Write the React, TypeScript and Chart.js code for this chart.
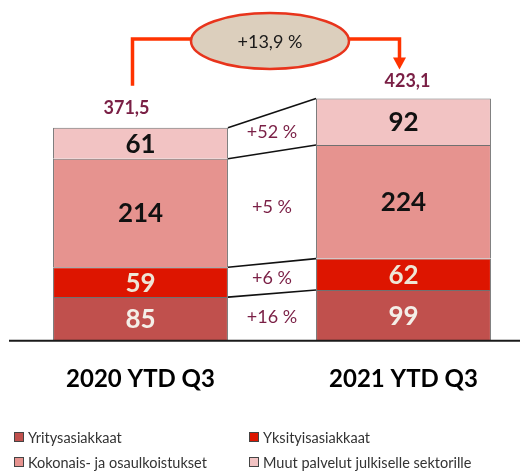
import React, { useEffect, useRef } from "react";
import { Chart, registerables } from "chart.js";

Chart.register(...registerables);

const periods = ["2020 YTD Q3", "2021 YTD Q3"];
const seriesNames = [
  "Yritysasiakkaat",
  "Yksityisasiakkaat",
  "Kokonais- ja osaulkoistukset",
  "Muut palvelut julkiselle sektorille",
];
const yritysasiakkaat = [85, 99];
const yksityisasiakkaat = [59, 62];
const kokonaisJaOsa = [214, 224];
const muutPalvelut = [61, 92];
const totals = ["371,5", "423,1"];
const changes = ["+16 %", "+6 %", "+5 %", "+52 %"];
const totalChange = "+13,9 %";

const series = [yritysasiakkaat, yksityisasiakkaat, kokonaisJaOsa, muutPalvelut];
const colors = ["#C0504D", "#DD1500", "#E6938F", "#F2C3C3"];
const valueColors = ["#F4EFE8", "#EEE6D6", "#111111", "#111111"];
const FONT = "Lato, 'Open Sans', sans-serif";

const annotationPlugin = {
  id: "annotations",
  afterDatasetsDraw(chart: any) {
    const ctx = chart.ctx as CanvasRenderingContext2D;
    const area = chart.chartArea;
    const metas = series.map((_, i) => chart.getDatasetMeta(i));
    const bar = (i: number, j: number) => metas[i].data[j].getProps(["x", "y", "base", "width"], true);
    ctx.save();

    // baseline
    ctx.strokeStyle = "#1a1a1a";
    ctx.lineWidth = 2;
    ctx.beginPath();
    ctx.moveTo(area.left, area.bottom + 0.5);
    ctx.lineTo(area.right, area.bottom + 0.5);
    ctx.stroke();

    // connectors
    ctx.strokeStyle = "#111";
    ctx.lineWidth = 1.6;
    series.forEach((_, i) => {
      const a = bar(i, 0);
      const b = bar(i, 1);
      ctx.beginPath();
      ctx.moveTo(a.x + a.width / 2, a.y);
      ctx.lineTo(b.x - b.width / 2, b.y);
      ctx.stroke();
    });

    // segment values
    ctx.textAlign = "center";
    ctx.textBaseline = "middle";
    ctx.font = `bold 26px ${FONT}`;
    series.forEach((vals, i) => {
      vals.forEach((v, j) => {
        const p = bar(i, j);
        ctx.fillStyle = valueColors[i];
        ctx.fillText(String(v), p.x, (p.y + p.base) / 2 + 1);
      });
    });

    // change labels between bars
    ctx.font = `18px ${FONT}`;
    ctx.fillStyle = "#7A1F45";
    series.forEach((_, i) => {
      const a = bar(i, 0);
      const b = bar(i, 1);
      const x = (a.x + a.width / 2 + b.x - b.width / 2) / 2;
      const y = ((a.y + a.base) / 2 + (b.y + b.base) / 2) / 2;
      ctx.fillText(changes[i], x, y);
    });

    // totals
    ctx.font = `bold 18px ${FONT}`;
    ctx.fillStyle = "#7A1F45";
    const top0 = bar(3, 0);
    const top1 = bar(3, 1);
    ctx.fillText(totals[0], top0.x - 14, top0.y - 20);
    ctx.fillText(totals[1], top1.x + 4, top1.y - 17);

    // arrow
    const x1 = top0.x - 8;
    const x2 = top1.x - 4;
    const lineY = area.top + 9;
    const cx = (x1 + x2) / 2 + 4;
    const cy = area.top + 11;
    ctx.strokeStyle = "#FF3300";
    ctx.lineWidth = 3.5;
    ctx.lineJoin = "miter";
    ctx.beginPath();
    ctx.moveTo(x1, top0.y - 42);
    ctx.lineTo(x1, lineY);
    ctx.lineTo(cx, lineY);
    ctx.stroke();
    ctx.beginPath();
    ctx.moveTo(cx, lineY);
    ctx.lineTo(x2, lineY);
    ctx.lineTo(x2, top1.y - 40);
    ctx.stroke();
    ctx.fillStyle = "#FF3300";
    ctx.beginPath();
    ctx.moveTo(x2 - 6.5, top1.y - 41);
    ctx.lineTo(x2 + 6.5, top1.y - 41);
    ctx.lineTo(x2, top1.y - 29);
    ctx.closePath();
    ctx.fill();

    // ellipse
    ctx.beginPath();
    ctx.ellipse(cx, cy, 79, 28, 0, 0, Math.PI * 2);
    ctx.fillStyle = "#DCCFBD";
    ctx.fill();
    ctx.strokeStyle = "#E8341C";
    ctx.lineWidth = 2.5;
    ctx.stroke();
    ctx.fillStyle = "#1a1a1a";
    ctx.font = `18px ${FONT}`;
    ctx.fillText(totalChange, cx, cy + 1);

    ctx.restore();
  },
};

export default function App() {
  const ref = useRef<HTMLCanvasElement>(null);
  useEffect(() => {
    if (!ref.current) return;
    const chart = new Chart(ref.current, {
      type: "bar",
      data: {
        datasets: series.map((vals, i) => ({
          label: seriesNames[i],
          data: vals.map((v, j) => ({ x: j, y: v })),
          backgroundColor: colors[i],
          borderColor: "#707070",
          borderWidth: 1,
          barPercentage: 0.665,
          categoryPercentage: 1,
        })),
      },
      options: {
        animation: false,
        responsive: false,
        maintainAspectRatio: false,
        layout: { padding: { left: 9, right: 2, top: 30, bottom: 53 } },
        plugins: { legend: { display: false }, tooltip: { enabled: false } },
        scales: {
          x: {
            type: "linear",
            offset: false,
            stacked: true,
            min: -0.5,
            max: 1.443,
            grid: { display: false, drawTicks: false, offset: false },
            border: { display: false },
            afterBuildTicks: (s: any) => {
              s.ticks = periods.map((_, i) => ({ value: i }));
            },
            ticks: {
              callback: (v: any) => periods[v as number] ?? "",
              font: { family: FONT, size: 24, weight: "bold" },
              color: "#000",
              padding: 25,
              autoSkip: false,
              maxRotation: 0,
            },
          },
          y: { stacked: true, display: false, min: 0, max: 612 },
        },
      } as any,
      plugins: [annotationPlugin],
    });
    return () => chart.destroy();
  }, []);

  const legendPos = [
    { left: 14, top: 437 },
    { left: 249, top: 437 },
    { left: 14, top: 462 },
    { left: 249, top: 462 },
  ];

  return (
    <div style={{ position: "absolute", left: 0, top: 0, width: 522, height: 472, background: "#fff" }}>
      <canvas ref={ref} width={522} height={472} style={{ display: "block", width: 522, height: 472 }} />
      {seriesNames.map((name, i) => (
        <div
          key={name}
          style={{
            position: "absolute",
            left: legendPos[i].left,
            top: legendPos[i].top - 10,
            height: 20,
            display: "flex",
            alignItems: "center",
            fontFamily: FONT,
            fontSize: 14.5,
            color: "#333",
            whiteSpace: "nowrap",
          }}
        >
          <span
            style={{
              display: "inline-block",
              width: 8,
              height: 8,
              background: colors[i],
              border: "1px solid #444",
              marginRight: 4,
            }}
          />
          {name}
        </div>
      ))}
    </div>
  );
}
